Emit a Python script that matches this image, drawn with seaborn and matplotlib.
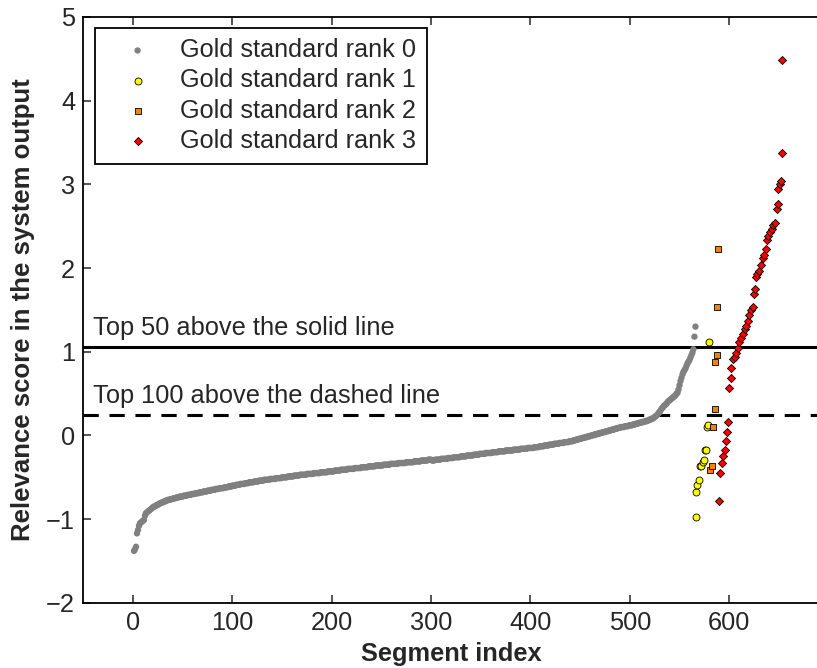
import matplotlib
matplotlib.use("Agg")
import matplotlib.pyplot as plt
import seaborn as sns
import numpy as np
import pandas as pd

# ---------------- data ----------------
rank0_scores = [
    -1.38, -1.36, -1.33, -1.17, -1.13, -1.08, -1.05, -1.04, -1.03, -1.02, -1.01, -0.96, -0.93, -0.92, -0.91, -0.90, -0.89, -0.88, -0.87, -0.86,
    -0.85, -0.85, -0.84, -0.83, -0.83, -0.82, -0.81, -0.81, -0.80, -0.80, -0.79, -0.79, -0.78, -0.78, -0.77, -0.77, -0.77, -0.76, -0.76, -0.76,
    -0.75, -0.75, -0.75, -0.74, -0.74, -0.74, -0.73, -0.73, -0.73, -0.73, -0.72, -0.72, -0.72, -0.72, -0.71, -0.71, -0.71, -0.71, -0.70, -0.70,
    -0.70, -0.70, -0.69, -0.69, -0.69, -0.69, -0.68, -0.68, -0.68, -0.68, -0.67, -0.67, -0.67, -0.67, -0.66, -0.66, -0.66, -0.66, -0.65, -0.65,
    -0.65, -0.65, -0.64, -0.64, -0.64, -0.64, -0.63, -0.63, -0.63, -0.63, -0.63, -0.62, -0.62, -0.62, -0.62, -0.61, -0.61, -0.61, -0.61, -0.60,
    -0.60, -0.60, -0.60, -0.59, -0.59, -0.59, -0.59, -0.58, -0.58, -0.58, -0.58, -0.58, -0.57, -0.57, -0.57, -0.57, -0.56, -0.56, -0.56, -0.56,
    -0.56, -0.55, -0.55, -0.55, -0.55, -0.55, -0.54, -0.54, -0.54, -0.54, -0.54, -0.53, -0.53, -0.53, -0.53, -0.53, -0.53, -0.52, -0.52, -0.52,
    -0.52, -0.52, -0.52, -0.51, -0.51, -0.51, -0.51, -0.51, -0.51, -0.50, -0.50, -0.50, -0.50, -0.50, -0.50, -0.49, -0.49, -0.49, -0.49, -0.49,
    -0.49, -0.48, -0.48, -0.48, -0.48, -0.48, -0.48, -0.47, -0.47, -0.47, -0.47, -0.47, -0.47, -0.47, -0.46, -0.46, -0.46, -0.46, -0.46, -0.46,
    -0.46, -0.45, -0.45, -0.45, -0.45, -0.45, -0.45, -0.45, -0.44, -0.44, -0.44, -0.44, -0.44, -0.44, -0.44, -0.43, -0.43, -0.43, -0.43, -0.43,
    -0.43, -0.43, -0.42, -0.42, -0.42, -0.42, -0.42, -0.42, -0.41, -0.41, -0.41, -0.41, -0.41, -0.41, -0.41, -0.40, -0.40, -0.40, -0.40, -0.40,
    -0.40, -0.40, -0.39, -0.39, -0.39, -0.39, -0.39, -0.39, -0.39, -0.38, -0.38, -0.38, -0.38, -0.38, -0.38, -0.38, -0.37, -0.37, -0.37, -0.37,
    -0.37, -0.37, -0.37, -0.36, -0.36, -0.36, -0.36, -0.36, -0.36, -0.36, -0.36, -0.35, -0.35, -0.35, -0.35, -0.35, -0.35, -0.35, -0.34, -0.34,
    -0.34, -0.34, -0.34, -0.34, -0.34, -0.34, -0.33, -0.33, -0.33, -0.33, -0.33, -0.33, -0.33, -0.33, -0.32, -0.32, -0.32, -0.32, -0.32, -0.32,
    -0.32, -0.32, -0.31, -0.31, -0.31, -0.31, -0.31, -0.31, -0.31, -0.30, -0.30, -0.30, -0.30, -0.30, -0.30, -0.30, -0.29, -0.29, -0.29, -0.29,
    -0.30, -0.30, -0.30, -0.29, -0.29, -0.29, -0.29, -0.29, -0.29, -0.28, -0.28, -0.28, -0.28, -0.28, -0.28, -0.28, -0.27, -0.27, -0.27, -0.27,
    -0.27, -0.27, -0.26, -0.26, -0.26, -0.26, -0.26, -0.26, -0.26, -0.25, -0.25, -0.25, -0.25, -0.25, -0.25, -0.24, -0.24, -0.24, -0.24, -0.24,
    -0.24, -0.24, -0.23, -0.23, -0.23, -0.23, -0.23, -0.23, -0.22, -0.22, -0.22, -0.22, -0.22, -0.22, -0.21, -0.21, -0.21, -0.21, -0.21, -0.21,
    -0.21, -0.20, -0.20, -0.20, -0.20, -0.20, -0.20, -0.19, -0.19, -0.19, -0.19, -0.19, -0.19, -0.19, -0.18, -0.18, -0.18, -0.18, -0.18, -0.18,
    -0.18, -0.18, -0.17, -0.17, -0.17, -0.17, -0.17, -0.17, -0.17, -0.16, -0.16, -0.16, -0.16, -0.16, -0.16, -0.16, -0.15, -0.15, -0.15, -0.15,
    -0.15, -0.15, -0.15, -0.14, -0.14, -0.14, -0.14, -0.14, -0.13, -0.13, -0.13, -0.13, -0.13, -0.12, -0.12, -0.12, -0.12, -0.12, -0.11, -0.11,
    -0.11, -0.11, -0.11, -0.10, -0.10, -0.10, -0.10, -0.10, -0.09, -0.09, -0.09, -0.09, -0.09, -0.08, -0.08, -0.08, -0.08, -0.08, -0.07, -0.07,
    -0.07, -0.07, -0.06, -0.06, -0.06, -0.05, -0.05, -0.05, -0.04, -0.04, -0.04, -0.03, -0.03, -0.03, -0.02, -0.02, -0.02, -0.01, -0.01, -0.01,
    0.00, 0.00, 0.00, 0.01, 0.01, 0.01, 0.02, 0.02, 0.02, 0.03, 0.03, 0.03, 0.04, 0.04, 0.04, 0.05, 0.05, 0.05, 0.06, 0.06,
    0.06, 0.07, 0.07, 0.07, 0.08, 0.08, 0.08, 0.09, 0.09, 0.09, 0.10, 0.10, 0.10, 0.10, 0.11, 0.11, 0.11, 0.11, 0.12, 0.12,
    0.12, 0.12, 0.13, 0.13, 0.13, 0.14, 0.14, 0.14, 0.15, 0.15, 0.15, 0.16, 0.16, 0.16, 0.17, 0.17, 0.17, 0.18, 0.18, 0.19,
    0.19, 0.20, 0.20, 0.21, 0.22, 0.23, 0.24, 0.25, 0.27, 0.28, 0.30, 0.32, 0.33, 0.35, 0.36, 0.37, 0.38, 0.40, 0.41, 0.42,
    0.43, 0.44, 0.45, 0.46, 0.47, 0.48, 0.50, 0.51, 0.55, 0.60, 0.65, 0.69, 0.73, 0.76, 0.78, 0.80, 0.83, 0.86, 0.88, 0.90,
    0.93, 0.96, 0.99, 1.03, 1.18, 1.30,
]
rank0_index = list(range(1, len(rank0_scores) + 1))

rank1_index = [567, 567, 568, 570, 571, 572, 574, 575, 576, 577, 578, 579, 580]
rank1_scores = [-0.97, -0.68, -0.59, -0.53, -0.37, -0.36, -0.32, -0.29, -0.18, -0.17, 0.10, 0.12, 1.12]

rank2_index = [581, 583, 584, 586, 586, 588, 588, 589]
rank2_scores = [-0.41, -0.37, 0.10, 0.31, 0.88, 0.96, 1.54, 2.23]

rank3_index = [590, 591, 593, 594, 596, 597, 598, 599, 600, 602, 602, 604, 606, 607, 609, 610,
               612, 614, 616, 617, 619, 620, 622, 624, 625, 626, 627, 628, 630, 632, 634, 635,
               637, 638, 639, 641, 643, 644, 646, 648, 649, 649, 651, 652, 653, 653]
rank3_scores = [-0.78, -0.45, -0.33, -0.25, -0.18, -0.07, 0.04, 0.16, 0.57, 0.69, 0.81, 0.91, 0.94, 0.99, 1.05, 1.12,
                1.16, 1.21, 1.27, 1.31, 1.37, 1.44, 1.50, 1.54, 1.69, 1.75, 1.89, 1.93, 1.97, 2.04, 2.12, 2.16,
                2.23, 2.33, 2.38, 2.43, 2.47, 2.51, 2.54, 2.71, 2.77, 2.94, 3.01, 3.04, 3.37, 4.49]

legend_labels = ["Gold standard rank 0", "Gold standard rank 1",
                 "Gold standard rank 2", "Gold standard rank 3"]
top50_threshold = 1.06
top100_threshold = 0.245
xticks = [0, 100, 200, 300, 400, 500, 600]
yticks = [-2, -1, 0, 1, 2, 3, 4, 5]

# ---------------- style ----------------
sns.set_style("ticks")
plt.rcParams["font.family"] = ["Liberation Sans", "DejaVu Sans"]
plt.rcParams["font.size"] = 18.3

fig = plt.figure(figsize=(8.17, 6.68), dpi=100)
ax = fig.add_axes([0.102, 0.0976, 0.9, 0.877])

df0 = pd.DataFrame({"idx": rank0_index, "score": rank0_scores})
df1 = pd.DataFrame({"idx": rank1_index, "score": rank1_scores})
df2 = pd.DataFrame({"idx": rank2_index, "score": rank2_scores})
df3 = pd.DataFrame({"idx": rank3_index, "score": rank3_scores})

sns.scatterplot(data=df0, x="idx", y="score", ax=ax, marker="o", s=21,
                color=(0.5, 0.5, 0.5), edgecolor="none", linewidth=0,
                label=legend_labels[0], zorder=3)
sns.scatterplot(data=df1, x="idx", y="score", ax=ax, marker="o", s=25,
                color=(1, 1, 0), edgecolor="black", linewidth=0.6,
                label=legend_labels[1], zorder=4)
sns.scatterplot(data=df2, x="idx", y="score", ax=ax, marker="s", s=24,
                color=(1, 0.5, 0), edgecolor="black", linewidth=0.6,
                label=legend_labels[2], zorder=5)
sns.scatterplot(data=df3, x="idx", y="score", ax=ax, marker="D", s=17,
                color=(1, 0, 0), edgecolor="black", linewidth=0.6,
                label=legend_labels[3], zorder=6)

ax.axhline(top50_threshold, color="black", lw=2.2, zorder=2)
ax.axhline(top100_threshold, color="black", lw=2.2, ls=(0, (5, 3.5)), zorder=2)

ax.text(-40, 1.195, "Top 50 above the solid line", fontsize=18.3, va="baseline", ha="left")
ax.text(-40, 0.39, "Top 100 above the dashed line", fontsize=18.3, va="baseline", ha="left")

ax.set_xlim(-50, 690)
ax.set_ylim(-2, 5)
ax.set_xticks(xticks)
ax.set_yticks(yticks)
ax.set_yticklabels([str(t).replace("-", "\u2212") for t in yticks])
ax.tick_params(direction="in", length=6, width=1.1, labelsize=18.3, top=True, right=False,
               pad=6)
for side in ["left", "top", "bottom"]:
    ax.spines[side].set_linewidth(1.3)
    ax.spines[side].set_color("black")
ax.spines["right"].set_visible(False)

ax.set_xlabel("Segment index", fontsize=18.3, fontweight="bold", labelpad=5)
ax.set_ylabel("Relevance score in the system output", fontsize=18.5, fontweight="bold", labelpad=8)

leg = ax.legend(loc="upper left", bbox_to_anchor=(0.0155, 0.982), fontsize=18.2,
                frameon=True, fancybox=False, framealpha=1, edgecolor="black",
                handlelength=2.55, handletextpad=0.42, borderpad=0.42,
                labelspacing=0.25, borderaxespad=0, markerscale=1.0)
leg.get_frame().set_linewidth(1.3)

fig.savefig("out.png", dpi=100)
